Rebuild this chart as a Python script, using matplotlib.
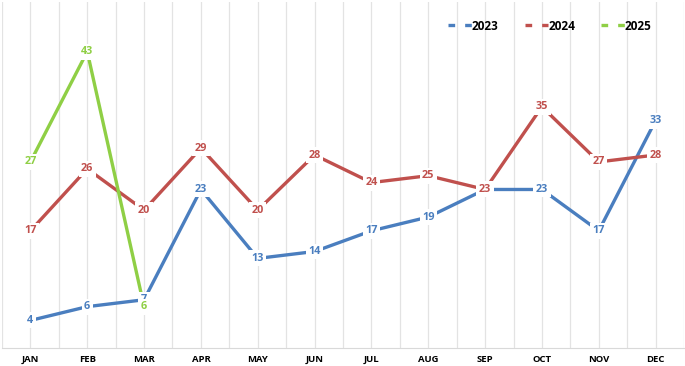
import matplotlib.pyplot as plt
import numpy as np

months = ['JAN', 'FEB', 'MAR', 'APR', 'MAY', 'JUN', 'JUL', 'AUG', 'SEP', 'OCT', 'NOV', 'DEC']
v2023 = [4, 6, 7, 23, 13, 14, 17, 19, 23, 23, 17, 33]
v2024 = [17, 26, 20, 29, 20, 28, 24, 25, 23, 35, 27, 28]
v2025 = [27, 43, 6]

plt.rcParams['font.family'] = ['Open Sans', 'DejaVu Sans']

fig = plt.figure(figsize=(6.85, 3.66), dpi=100)
ax = fig.add_axes([2/685, 18/366, 682/685, 346/366])

x = np.arange(len(months))
series = [('2023', v2023, '#4A7EBF'), ('2024', v2024, '#C0504D'), ('2025', v2025, '#8FCF45')]

for name, vals, col in series:
    xx = x[:len(vals)]
    ax.plot(xx, vals, color=col, lw=2.4, solid_capstyle='butt', label=name, zorder=3)

for name, vals, col in series:
    for i, v in enumerate(vals):
        ax.text(i, v, str(v), color=col, ha='center', va='center', fontsize=7.8,
                fontweight='bold', zorder=5,
                bbox=dict(facecolor='white', edgecolor='none', pad=1.8))

ax.set_xlim(-0.5, 11.5)
ax.set_ylim(0, 50.2)
ax.set_xticks(x)
ax.set_xticklabels(months, fontsize=6.8, fontweight='bold')
ax.set_xticks(np.arange(-0.5, 12, 1), minor=True)
ax.tick_params(axis='x', which='both', length=0, pad=5)
ax.set_yticks([])
ax.grid(axis='x', which='both', color='#E3E3E3', lw=0.9)
for s in ['top', 'right', 'left']:
    ax.spines[s].set_visible(False)
ax.spines['bottom'].set_color('#D9D9D9')

handles = [plt.Line2D([], [], color=c, lw=2.4, ls=(0, (2, 3))) for _, _, c in series]
leg = ax.legend(handles, [s[0] for s in series], loc='upper right', ncol=3, frameon=False,
                prop={'weight': 'bold', 'size': 8.5}, handlelength=2.0, handletextpad=0.0,
                columnspacing=2.2, bbox_to_anchor=(0.968, 0.98))

fig.savefig('out.png', dpi=100)
